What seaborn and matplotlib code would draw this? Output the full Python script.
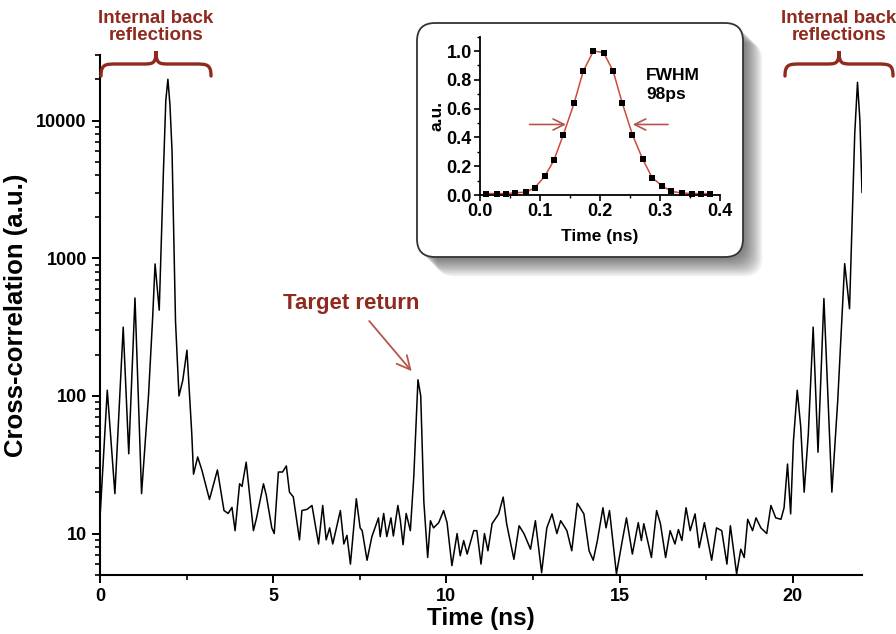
import matplotlib
matplotlib.use("Agg")
import matplotlib.pyplot as plt
import matplotlib.ticker as mticker
from matplotlib.path import Path
from matplotlib.patches import PathPatch, FancyBboxPatch
import seaborn as sns

# ---- main trace: cross-correlation vs time ----
time_ns = [0.00, 0.21, 0.43, 0.67, 0.83, 1.01, 1.20, 1.40, 1.52, 1.59, 1.71, 1.83, 1.90, 1.96,
           2.02, 2.08, 2.13, 2.18, 2.28, 2.39, 2.51, 2.65, 2.70, 2.82, 2.94, 3.16, 3.39, 3.58,
           3.70, 3.81, 3.90, 4.03, 4.10, 4.22, 4.43, 4.52, 4.72, 4.80, 4.96, 5.03, 5.15, 5.27,
           5.38, 5.47, 5.58, 5.76, 5.83, 5.98, 6.12, 6.31, 6.43, 6.53, 6.63, 6.72, 6.94, 7.04,
           7.13, 7.23, 7.40, 7.51, 7.57, 7.71, 7.85, 8.04, 8.09, 8.19, 8.28, 8.40, 8.47, 8.60,
           8.67, 8.75, 8.84, 8.96, 9.06, 9.18, 9.26, 9.35, 9.46, 9.54, 9.63, 9.78, 9.92, 10.02,
           10.16, 10.31, 10.40, 10.50, 10.60, 10.79, 10.88, 11.00, 11.10, 11.20, 11.32, 11.51,
           11.64, 11.74, 11.95, 12.10, 12.24, 12.43, 12.57, 12.75, 12.90, 13.05, 13.19, 13.30,
           13.48, 13.62, 13.78, 13.97, 14.12, 14.24, 14.36, 14.52, 14.61, 14.71, 14.91, 15.08,
           15.20, 15.37, 15.54, 15.63, 15.70, 15.92, 16.07, 16.18, 16.33, 16.46, 16.60, 16.70,
           16.80, 16.92, 17.04, 17.18, 17.30, 17.45, 17.66, 17.80, 17.95, 18.10, 18.20, 18.38,
           18.50, 18.60, 18.70, 18.84, 18.94, 19.08, 19.25, 19.37, 19.51, 19.66, 19.75, 19.85,
           19.94, 20.02, 20.13, 20.23, 20.33, 20.45, 20.59, 20.73, 20.90, 21.13, 21.30, 21.50,
           21.64, 21.72, 21.79, 21.87, 21.94, 22.00]
xcorr = [13, 110, 19.5, 316, 38, 515, 19.5, 100, 370, 910, 420, 4200, 14000, 20000,
         13000, 6000, 1500, 350, 100, 130, 215, 53, 27, 36, 29, 17.7, 29, 14.7,
         14, 15.5, 10.5, 23, 22, 33, 10.5, 13, 23, 19, 11, 10, 28, 28,
         31, 20, 18.5, 9, 14.7, 15, 16, 8.4, 16, 9, 11, 8.4, 14.7, 8.4,
         9.7, 6.0, 17.9, 11, 10.5, 6.4, 9.5, 13, 9.5, 14, 9.5, 13, 9.6, 16,
         12.5, 8.3, 14, 10.5, 26, 131, 100, 17, 6.7, 12.4, 11, 12, 14.7, 12,
         5.85, 10, 6.9, 8.9, 7.1, 10.5, 10.5, 6.0, 10, 7.5, 11.8, 13.9,
         18.4, 11.8, 6.5, 11.4, 10, 7.7, 12.4, 5.2, 11, 13.9, 10, 12.4,
         10.5, 7.5, 16.6, 13.9, 7.5, 6.4, 8.9, 15.4, 11, 14.7, 5.1, 8.9,
         13, 7.1, 12, 8.9, 11.8, 6.7, 14.7, 11.8, 6.7, 10.5, 8.4, 10.7,
         8.9, 15.4, 10.5, 13.9, 7.9, 12, 6.4, 11, 10.5, 6.0, 11.4, 5.1,
         7.7, 6.7, 12.7, 10.5, 13, 11, 10, 16, 13, 12.7, 15.4, 32,
         13.9, 47, 110, 60, 20, 53, 316, 39, 510, 20, 93, 915,
         430, 2000, 8000, 19000, 10000, 3000]

# ---- inset: pulse profile ----
pulse_t = [0.010, 0.028, 0.043, 0.058, 0.077, 0.091, 0.108, 0.123, 0.139, 0.157, 0.172, 0.189,
           0.206, 0.222, 0.237, 0.254, 0.271, 0.287, 0.303, 0.319, 0.336, 0.353, 0.369, 0.384]
pulse_au = [0.01, 0.01, 0.01, 0.015, 0.02, 0.05, 0.13, 0.24, 0.42, 0.64, 0.86, 1.0,
            0.99, 0.86, 0.64, 0.42, 0.25, 0.12, 0.065, 0.025, 0.015, 0.01, 0.01, 0.01]

DARKRED = "#8E2A1E"
ARROWRED = "#B5554C"
W, H = 896, 634

sns.set_theme(style="ticks")
plt.rcParams['font.family'] = ['Liberation Sans', 'DejaVu Sans']
plt.rcParams['font.weight'] = 'bold'
for key in ("text.color", "axes.labelcolor", "xtick.color", "ytick.color"):
    plt.rcParams[key] = "black"

fig = plt.figure(figsize=(8.96, 6.34), dpi=100)
fig.patch.set_facecolor("white")

# main axes
ax = fig.add_axes([100 / W, 1 - 575 / H, (862 - 100) / W, (575 - 55) / H])
ax.set_zorder(0)
sns.lineplot(x=time_ns, y=xcorr, ax=ax, color="black", lw=1.1, sort=False, estimator=None)
ax.set_yscale("log")
ax.set_xlim(0, 22)
ax.set_ylim(5, 30000)
ax.xaxis.set_major_locator(mticker.MultipleLocator(5))
ax.xaxis.set_minor_locator(mticker.MultipleLocator(2.5))
ax.yaxis.set_major_locator(mticker.FixedLocator([10, 100, 1000, 10000]))
ax.yaxis.set_major_formatter(mticker.FuncFormatter(lambda v, p: f"{v:g}"))
ax.yaxis.set_minor_formatter(mticker.NullFormatter())
ax.tick_params(which="major", direction="out", length=6, width=1.4, labelsize=13)
ax.tick_params(which="minor", direction="out", length=3.5, width=1.2)
for lab in ax.get_xticklabels() + ax.get_yticklabels():
    lab.set_fontweight("bold")
sns.despine(ax=ax)
for s in ("left", "bottom"):
    ax.spines[s].set_linewidth(1.5)
    ax.spines[s].set_color("black")
ax.set_xlabel("Time (ns)", fontsize=17.5, fontweight="bold", labelpad=1)
ax.set_ylabel("Cross-correlation (a.u.)", fontsize=18.5, fontweight="bold", labelpad=6)

# target return annotation
ax.text(7.25, 470, "Target return", color=DARKRED, fontsize=16, fontweight="bold",
        ha="center", va="center")
ax.annotate("", xy=(9.05, 146), xytext=(7.72, 363),
            arrowprops=dict(arrowstyle="->", color=ARROWRED, lw=1.3, mutation_scale=24))


# curly braces + labels above the plot (figure pixel coords, y from top)
def fpt(px, py):
    return (px / W, 1 - py / H)


def brace(x0, x1, y_tip, y_body, y_cusp):
    wd = x1 - x0
    xm = (x0 + x1) / 2
    pts = [(x0, y_tip),
           (x0, y_body), (x0 + 0.04 * wd, y_body), (x0 + 0.15 * wd, y_body),
           (xm - 0.12 * wd, y_body),
           (xm - 0.03 * wd, y_body), (xm, y_body), (xm, y_cusp),
           (xm, y_body), (xm + 0.03 * wd, y_body), (xm + 0.12 * wd, y_body),
           (x1 - 0.15 * wd, y_body),
           (x1 - 0.04 * wd, y_body), (x1, y_body), (x1, y_tip)]
    codes = [Path.MOVETO] + [Path.CURVE4] * 3 + [Path.LINETO] + [Path.CURVE4] * 6 \
        + [Path.LINETO] + [Path.CURVE4] * 3
    p = Path([fpt(*v) for v in pts], codes)
    fig.add_artist(PathPatch(p, fc="none", ec=DARKRED, lw=2.4, transform=fig.transFigure,
                             capstyle="round"))
    fig.text(*fpt(xm, 27), "Internal back\nreflections", color=DARKRED, fontsize=13.5,
             fontweight="bold", ha="center", va="center", linespacing=1.05)


brace(101, 211, 76, 64, 51)
brace(785, 893, 76, 64, 51)

# inset box with soft shadow (pixel coords)
bx0, by0, bw, bh = 417, H - 257, 326, 234
for i in range(10):
    off = 3 + i * 1.8
    sh = FancyBboxPatch((bx0 + off, by0 - off), bw, bh,
                        boxstyle="round,pad=0,rounding_size=18",
                        fc="black", ec="none", alpha=0.06, transform=None, zorder=2)
    fig.add_artist(sh)
box = FancyBboxPatch((bx0, by0), bw, bh, boxstyle="round,pad=0,rounding_size=18",
                     fc="white", ec="#333333", lw=1.3, transform=None, zorder=3)
fig.add_artist(box)

# inset axes
ins = fig.add_axes([480 / W, 1 - 195 / H, 240 / W, (195 - 36.7) / H])
ins.set_zorder(5)
ins.patch.set_alpha(0)
sns.lineplot(x=pulse_t, y=pulse_au, ax=ins, color="#D04A3C", lw=1.1, sort=False, estimator=None)
sns.scatterplot(x=pulse_t, y=pulse_au, ax=ins, color="black", marker="s", s=18,
                edgecolor="black", linewidth=0, clip_on=False, zorder=4)
ins.set_xlim(0, 0.4)
ins.set_ylim(0, 1.1)
ins.xaxis.set_major_locator(mticker.MultipleLocator(0.1))
ins.xaxis.set_minor_locator(mticker.MultipleLocator(0.05))
ins.yaxis.set_major_locator(mticker.FixedLocator([0, 0.2, 0.4, 0.6, 0.8, 1.0]))
ins.yaxis.set_minor_locator(mticker.MultipleLocator(0.1))
ins.xaxis.set_major_formatter(mticker.FormatStrFormatter("%.1f"))
ins.yaxis.set_major_formatter(mticker.FormatStrFormatter("%.1f"))
ins.tick_params(which="major", direction="out", length=4, width=1.2, labelsize=13, pad=2)
ins.tick_params(which="minor", direction="out", length=2.5, width=1.0)
for lab in ins.get_xticklabels() + ins.get_yticklabels():
    lab.set_fontweight("bold")
sns.despine(ax=ins)
for s in ("left", "bottom"):
    ins.spines[s].set_linewidth(1.3)
    ins.spines[s].set_color("black")
ins.set_xlabel("Time (ns)", fontsize=12.5, fontweight="bold", labelpad=6)
ins.set_ylabel("a.u.", fontsize=12.5, fontweight="bold", labelpad=1)
ins.text(0.277, 0.88, "FWHM\n98ps", fontsize=12.5, fontweight="bold", va="top", ha="left",
         linespacing=1.3)
ins.annotate("", xy=(0.148, 0.49), xytext=(0.078, 0.49),
             arrowprops=dict(arrowstyle="->", color=ARROWRED, lw=1.2, mutation_scale=20))
ins.annotate("", xy=(0.250, 0.49), xytext=(0.318, 0.49),
             arrowprops=dict(arrowstyle="->", color=ARROWRED, lw=1.2, mutation_scale=20))

fig.savefig("out.png", dpi=100)
